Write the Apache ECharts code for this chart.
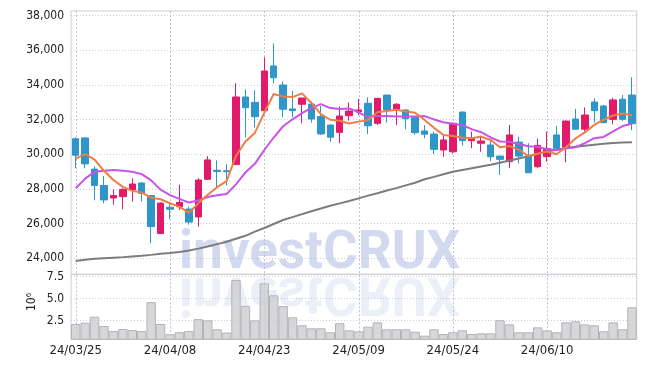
<!DOCTYPE html>
<html><head><meta charset="utf-8">
<script src="https://cdn.jsdelivr.net/npm/echarts@6/dist/echarts.min.js"></script>
<style>html,body{margin:0;padding:0;background:#fff}#c{width:645px;height:368px}</style>
</head><body><div id="c"></div><script>
const dates = ['24/03/25','24/03/26','24/03/27','24/03/28','24/03/29','24/04/01','24/04/02','24/04/03','24/04/04','24/04/05',
'24/04/08','24/04/09','24/04/11','24/04/12','24/04/15','24/04/16','24/04/17','24/04/18','24/04/19','24/04/22',
'24/04/23','24/04/24','24/04/25','24/04/26','24/04/29','24/04/30','24/05/02','24/05/03','24/05/07','24/05/08',
'24/05/09','24/05/10','24/05/13','24/05/14','24/05/16','24/05/17','24/05/20','24/05/21','24/05/22','24/05/23',
'24/05/24','24/05/27','24/05/28','24/05/29','24/05/30','24/05/31','24/06/03','24/06/04','24/06/05','24/06/07',
'24/06/10','24/06/11','24/06/12','24/06/13','24/06/14','24/06/17','24/06/18','24/06/19','24/06/20','24/06/21'];
const opens = [30900,30950,29150,28200,27480,27560,27950,28350,27620,25430,
26950,26980,26840,26390,28560,29080,29060,29420,33310,33000,
32520,35100,34000,32620,32890,32900,32180,31690,31270,32230,
32460,32950,31790,33420,32600,32560,32140,31350,31170,30250,
30150,32440,30790,30640,30540,29900,29580,30710,29900,29290,
29870,31120,30410,32040,31450,33020,32790,32020,33180,33420];
const highs = [30980,30980,29300,28750,27980,28030,28620,28380,27650,27220,
27170,28250,26990,28620,29900,29650,29430,34100,33750,33710,
35590,36400,34200,33650,33260,33040,32790,31720,32750,33000,
33180,33290,33260,33440,32950,32580,32160,31690,31310,31060,
31830,32460,31310,31060,30830,29930,31690,31020,30640,30900,
31310,31640,31950,32620,32710,33230,32850,33270,33420,34450];
const lows = [29200,29200,27350,27180,27100,26830,27270,27290,24870,25400,
26250,26790,25940,25830,28530,28040,28200,29380,30980,31550,
32480,34100,32140,32140,31790,31830,31120,30730,30640,31940,
32270,31170,31700,31830,31690,31450,31120,30930,30020,29860,
30060,30500,30350,30150,29620,28810,29200,29480,28920,29200,
29580,30250,29540,31420,31310,31830,31800,31730,31920,31400];
const closes = [29950,29450,28200,27370,27620,27980,28290,27750,25830,27190,
26830,27230,26090,28520,29680,29010,29000,33310,32690,32175,
34810,34420,32600,32520,33250,32040,31180,30990,32210,32500,
32560,31650,33230,32560,32890,32060,31250,31160,30290,30830,
31790,30790,30940,30770,29860,29710,31120,29900,28940,30520,
30330,30350,31920,31450,32270,32520,31830,33140,32020,31770];
const volumes = [2.09,2.24,2.92,1.86,1.29,1.52,1.41,1.29,4.57,2.09,
0.93,1.16,1.29,2.64,2.5,1.49,1.12,7.09,4.13,2.5,
6.71,5.35,4.13,2.85,1.94,1.6,1.6,1.15,2.17,1.37,
1.26,1.78,2.28,1.49,1.49,1.49,1.21,0.76,1.49,0.95,
1.15,1.37,0.95,1.03,1.03,2.51,2.05,1.15,1.15,1.71,
1.37,1.15,2.28,2.4,2.05,1.94,1.26,2.28,1.49,3.99];
const ma5 = [29750,30010,29700,29050,28518,28124,27892,27802,27494,27408,
27178,26966,26634,27172,27670,28106,28460,29904,30738,31237,
32397,33481,33339,33305,33520,32966,32318,31996,31934,31784,
31888,31982,32430,32500,32578,32478,32398,31984,31530,31118,
31064,30972,30928,31024,30830,30414,30480,30272,29906,30038,
30162,30008,30412,30914,31264,31702,31998,32242,32356,32256];
const ma10 = [28040,28600,28990,29060,29090,29060,29000,28860,28500,27963,
27651,27429,27218,27333,27539,27642,27713,28269,28955,29454,
30252,30971,31622,32022,32379,32682,32900,32668,32620,32652,
32427,32150,32213,32217,32181,32183,32190,32207,32015,31848,
31771,31685,31456,31277,30974,30739,30726,30600,30465,30434,
30288,30244,30342,30410,30651,30932,31003,31327,31635,31760];
const ma60 = [23850,23920,23980,24010,24040,24070,24110,24150,24200,24260,
24310,24370,24450,24560,24680,24820,24960,25130,25300,25540,
25750,25980,26210,26380,26550,26720,26880,27030,27170,27310,
27460,27620,27760,27910,28050,28210,28360,28560,28700,28850,
29000,29100,29200,29300,29400,29520,29640,29760,29890,30030,
30160,30260,30360,30440,30500,30560,30610,30650,30680,30700];
const priceTicks = [24000,26000,28000,30000,32000,34000,36000,38000];
const volumeTicks = [2.5,5.0,7.5];
const labelDates = ['24/03/25','24/04/08','24/04/23','24/05/09','24/05/24','24/06/10'];

const FONT = "'DejaVu Sans Condensed','Liberation Sans Narrow','DejaVu Sans',sans-serif";
const dotted = {color:'#c9cce0', width:1, type:[1,2]};
const gridLine = {show:true, lineStyle:dotted};
const chart = echarts.init(document.getElementById('c'), null, {renderer:'canvas'});
const candleData = dates.map((d,i)=>[opens[i], closes[i], lows[i], highs[i]]);

function vLineSeries(ax){
  return {type:'custom', xAxisIndex:ax, yAxisIndex:ax, z:1, silent:true, clip:false,
    encode:{x:0, y:1},
    data:labelDates.map(d=>[dates.indexOf(d), ax === 0 ? priceTicks[0] : volumeTicks[0]]),
    renderItem:function(params, api){
      const p = api.coord([api.value(0), api.value(1)]);
      const cs = params.coordSys;
      const x = Math.round(p[0]) + 0.5;
      return {type:'line', silent:true,
        shape:{x1:x, y1:cs.y, x2:x, y2:cs.y + cs.height},
        style:{stroke:'#bcc0d8', fill:null, lineWidth:1, lineDash:[2,2]}};
    }};
}

chart.setOption({
  animation:false,
  backgroundColor:'#fff',
  grid:[
    {left:71, top:11, width:565.7, height:263.3, show:true, borderColor:'#cfcfcf', borderWidth:1, backgroundColor:'transparent'},
    {left:71, top:274.3, width:565.7, height:65, show:true, borderColor:'#cfcfcf', borderWidth:1, backgroundColor:'transparent'}
  ],
  xAxis:[
    {type:'category', gridIndex:0, data:dates, boundaryGap:true,
     axisLine:{show:false}, axisTick:{show:false}, axisLabel:{show:false, interval:9},
     splitLine:{show:false}},
    {type:'category', gridIndex:1, data:dates, boundaryGap:true,
     axisLine:{show:false}, axisTick:{show:false},
     axisLabel:{show:true, interval:9, color:'#222', fontSize:13, fontFamily:FONT, margin:5},
     splitLine:{show:false}}
  ],
  yAxis:[
    {type:'value', gridIndex:0, min:23079, max:38271, scale:true,
     axisLine:{show:false}, axisTick:{show:false, customValues:priceTicks},
     axisLabel:{customValues:priceTicks, color:'#222', fontSize:12, fontFamily:FONT, margin:7,
       formatter:v=>Number(v).toLocaleString('en-US')},
     splitLine:gridLine},
    {type:'value', gridIndex:1, min:0.35, max:7.74,
     axisLine:{show:false}, axisTick:{show:false, customValues:volumeTicks},
     axisLabel:{customValues:volumeTicks, color:'#222', fontSize:12, fontFamily:FONT, margin:7,
       formatter:v=>Number(v).toFixed(1)},
     splitLine:gridLine}
  ],
  graphic:[
    {type:'text', x:179, y:272.5, z:1, silent:true,
     style:{x:0, y:-17.5, text:'investCRUX', font:'bold 53px Roboto', fill:'rgba(150,165,215,0.42)', textAlign:'left', textVerticalAlign:'middle'}},
    {type:'text', x:179, y:273.5, scaleY:-1, z:1, silent:true,
     style:{x:0, y:-17.5, text:'investCRUX', font:'bold 53px Roboto', fill:'rgba(150,165,215,0.18)', textAlign:'left', textVerticalAlign:'middle'}},
    {type:'text', x:32, y:302, rotation:Math.PI/2, silent:true,
     style:{text:'10\u2076', font:"12px "+FONT, fill:'#222', textAlign:'center', textVerticalAlign:'middle'}}
  ],
  series:[
    vLineSeries(0),
    vLineSeries(1),
    {type:'bar', xAxisIndex:1, yAxisIndex:1, data:volumes, barCategoryGap:'0%', z:3,
     itemStyle:{color:'rgba(205,205,208,0.8)', borderColor:'#b4b4b8', borderWidth:1}},
    {type:'candlestick', xAxisIndex:0, yAxisIndex:0, data:candleData, barWidth:7, z:3,
     itemStyle:{color:'#e21a6a', color0:'#2e96c8', borderColor:'#e21a6a', borderColor0:'#2e96c8', borderWidth:1}},
    {type:'line', xAxisIndex:0, yAxisIndex:0, data:ma60, symbol:'none', z:4,
     lineStyle:{color:'#7c7c7c', width:2}},
    {type:'line', xAxisIndex:0, yAxisIndex:0, data:ma10, symbol:'none', z:4,
     lineStyle:{color:'#c854e6', width:2}},
    {type:'line', xAxisIndex:0, yAxisIndex:0, data:ma5, symbol:'none', z:5,
     lineStyle:{color:'#ef7d48', width:2}}
  ]
});
</script></body></html>
